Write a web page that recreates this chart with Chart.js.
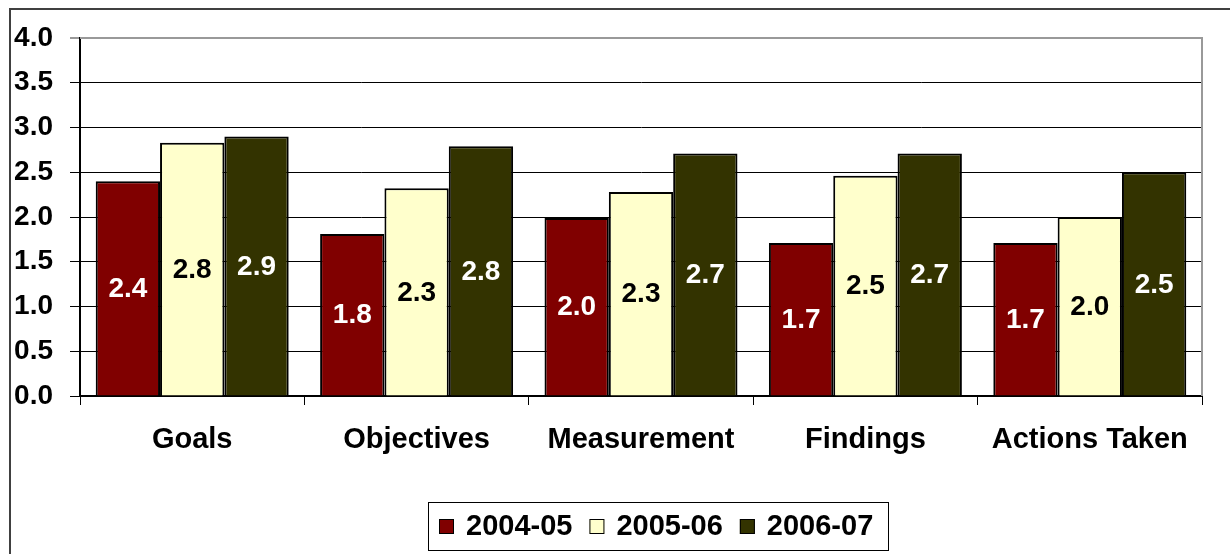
<!DOCTYPE html>
<html lang="en">
<head>
    <title>Assessment Ratings</title>
    <script src="https://cdn.jsdelivr.net/npm/chart.js"></script>
    <style>
        html, body { margin: 0; padding: 0; background: #fff; }
        #chart-container { position: relative; width: 1230px; height: 554px; }
    </style>
</head>
<body>
    <div id="chart-container">
        <canvas id="chart"></canvas>
    </div>

    <script>
        var categories = ['Goals', 'Objectives', 'Measurement', 'Findings', 'Actions Taken'];
        var seriesNames = ['2004-05', '2005-06', '2006-07'];
        var values0405 = [2.40, 1.81, 1.99, 1.71, 1.71];
        var values0506 = [2.83, 2.32, 2.28, 2.46, 2.00];
        var values0607 = [2.90, 2.79, 2.71, 2.71, 2.50];
        var yTicks = [0, 0.5, 1.0, 1.5, 2.0, 2.5, 3.0, 3.5, 4.0];

        var fillColors = ['#800000', '#FFFFCC', '#333300'];
        var labelColors = ['#ffffff', '#000000', '#ffffff'];
        var FONT = '"Liberation Sans", Arial, sans-serif';

        // outer frame, gray top/right edges of the plot
        var framePlugin = {
            id: 'frame',
            beforeDraw: function(chart) {
                var ctx = chart.ctx;
                ctx.save();
                ctx.fillStyle = '#fff';
                ctx.fillRect(0, 0, chart.width, chart.height);
                ctx.strokeStyle = '#404040';
                ctx.lineWidth = 2;
                ctx.beginPath();
                ctx.moveTo(10, chart.height);
                ctx.lineTo(10, 9);
                ctx.lineTo(chart.width, 9);
                ctx.stroke();
                ctx.restore();
            },
            afterDraw: function(chart) {
                var a = chart.chartArea;
                var ctx = chart.ctx;
                ctx.save();
                ctx.strokeStyle = '#999';
                ctx.lineWidth = 2;
                ctx.beginPath();
                ctx.moveTo(a.left, a.top);
                ctx.lineTo(a.right, a.top);
                ctx.lineTo(a.right, a.bottom);
                ctx.stroke();
                ctx.restore();
            }
        };

        // value labels in the middle of each bar
        var barLabelPlugin = {
            id: 'barLabels',
            afterDatasetsDraw: function(chart) {
                var ctx = chart.ctx;
                ctx.save();
                ctx.font = 'bold 28px ' + FONT;
                ctx.textAlign = 'center';
                ctx.textBaseline = 'middle';
                chart.data.datasets.forEach(function(ds, i) {
                    var meta = chart.getDatasetMeta(i);
                    ctx.fillStyle = labelColors[i];
                    meta.data.forEach(function(bar, j) {
                        ctx.fillText(ds.data[j].toFixed(1), bar.x, (bar.y + bar.base) / 2 + 1);
                    });
                });
                ctx.restore();
            }
        };

        // boxed legend under the chart
        var legendPlugin = {
            id: 'boxLegend',
            afterDraw: function(chart) {
                var ctx = chart.ctx;
                var left = 428, top = 502, w = 460, h = 48;
                ctx.save();
                ctx.strokeStyle = '#000';
                ctx.lineWidth = 1;
                ctx.strokeRect(left + 0.5, top + 0.5, w, h);
                ctx.font = 'bold 29px ' + FONT;
                ctx.textBaseline = 'middle';
                ctx.textAlign = 'left';
                var x = 439, cy = top + h / 2 + 1;
                chart.data.datasets.forEach(function(ds, i) {
                    ctx.fillStyle = fillColors[i];
                    ctx.fillRect(x, cy - 8, 15, 15);
                    ctx.strokeStyle = '#000';
                    ctx.strokeRect(x + 0.5, cy - 7.5, 14, 14);
                    ctx.fillStyle = '#000';
                    ctx.fillText(ds.label, x + 27, cy);
                    x += 27 + ctx.measureText(ds.label).width + 17;
                });
                ctx.restore();
            }
        };

        var seriesValues = [values0405, values0506, values0607];

        var ctx = document.getElementById('chart').getContext('2d');
        var chart = new Chart(ctx, {
            type: 'bar',
            data: {
                labels: categories,
                datasets: seriesNames.map(function(name, i) {
                    return {
                        label: name,
                        data: seriesValues[i],
                        backgroundColor: fillColors[i],
                        borderColor: '#000',
                        borderWidth: 2,
                        borderSkipped: 'bottom',
                        categoryPercentage: 0.86,
                        barPercentage: 1.0
                    };
                })
            },
            options: {
                responsive: true,
                maintainAspectRatio: false,
                animation: false,
                layout: { padding: { left: 10, top: 38, right: 28, bottom: 0 } },
                plugins: {
                    legend: { display: false },
                    tooltip: { enabled: false }
                },
                scales: {
                    x: {
                        grid: { drawOnChartArea: false, drawTicks: true, tickLength: 9, color: '#000', lineWidth: 1 },
                        border: { color: '#000', width: 2 },
                        ticks: { color: '#000', padding: 18, maxRotation: 0, font: { family: FONT, size: 29, weight: 'bold' } },
                        afterFit: function(scale) { scale.height = 158; }
                    },
                    y: {
                        min: 0,
                        max: 4,
                        afterBuildTicks: function(scale) {
                            scale.ticks = yTicks.map(function(v) { return { value: v }; });
                        },
                        grid: {
                            color: function(c) { return c.tick && c.tick.value === 4 ? '#999' : '#000'; },
                            lineWidth: function(c) { return c.tick && c.tick.value === 4 ? 2 : 1; },
                            tickLength: 10
                        },
                        border: { color: '#000', width: 2 },
                        ticks: {
                            color: '#000',
                            padding: 17,
                            font: { family: FONT, size: 28, weight: 'bold' },
                            callback: function(v) { return Number(v).toFixed(1); }
                        },
                        afterFit: function(scale) { scale.width = 70; }
                    }
                }
            },
            plugins: [framePlugin, barLabelPlugin, legendPlugin]
        });
    </script>
</body>
</html>
